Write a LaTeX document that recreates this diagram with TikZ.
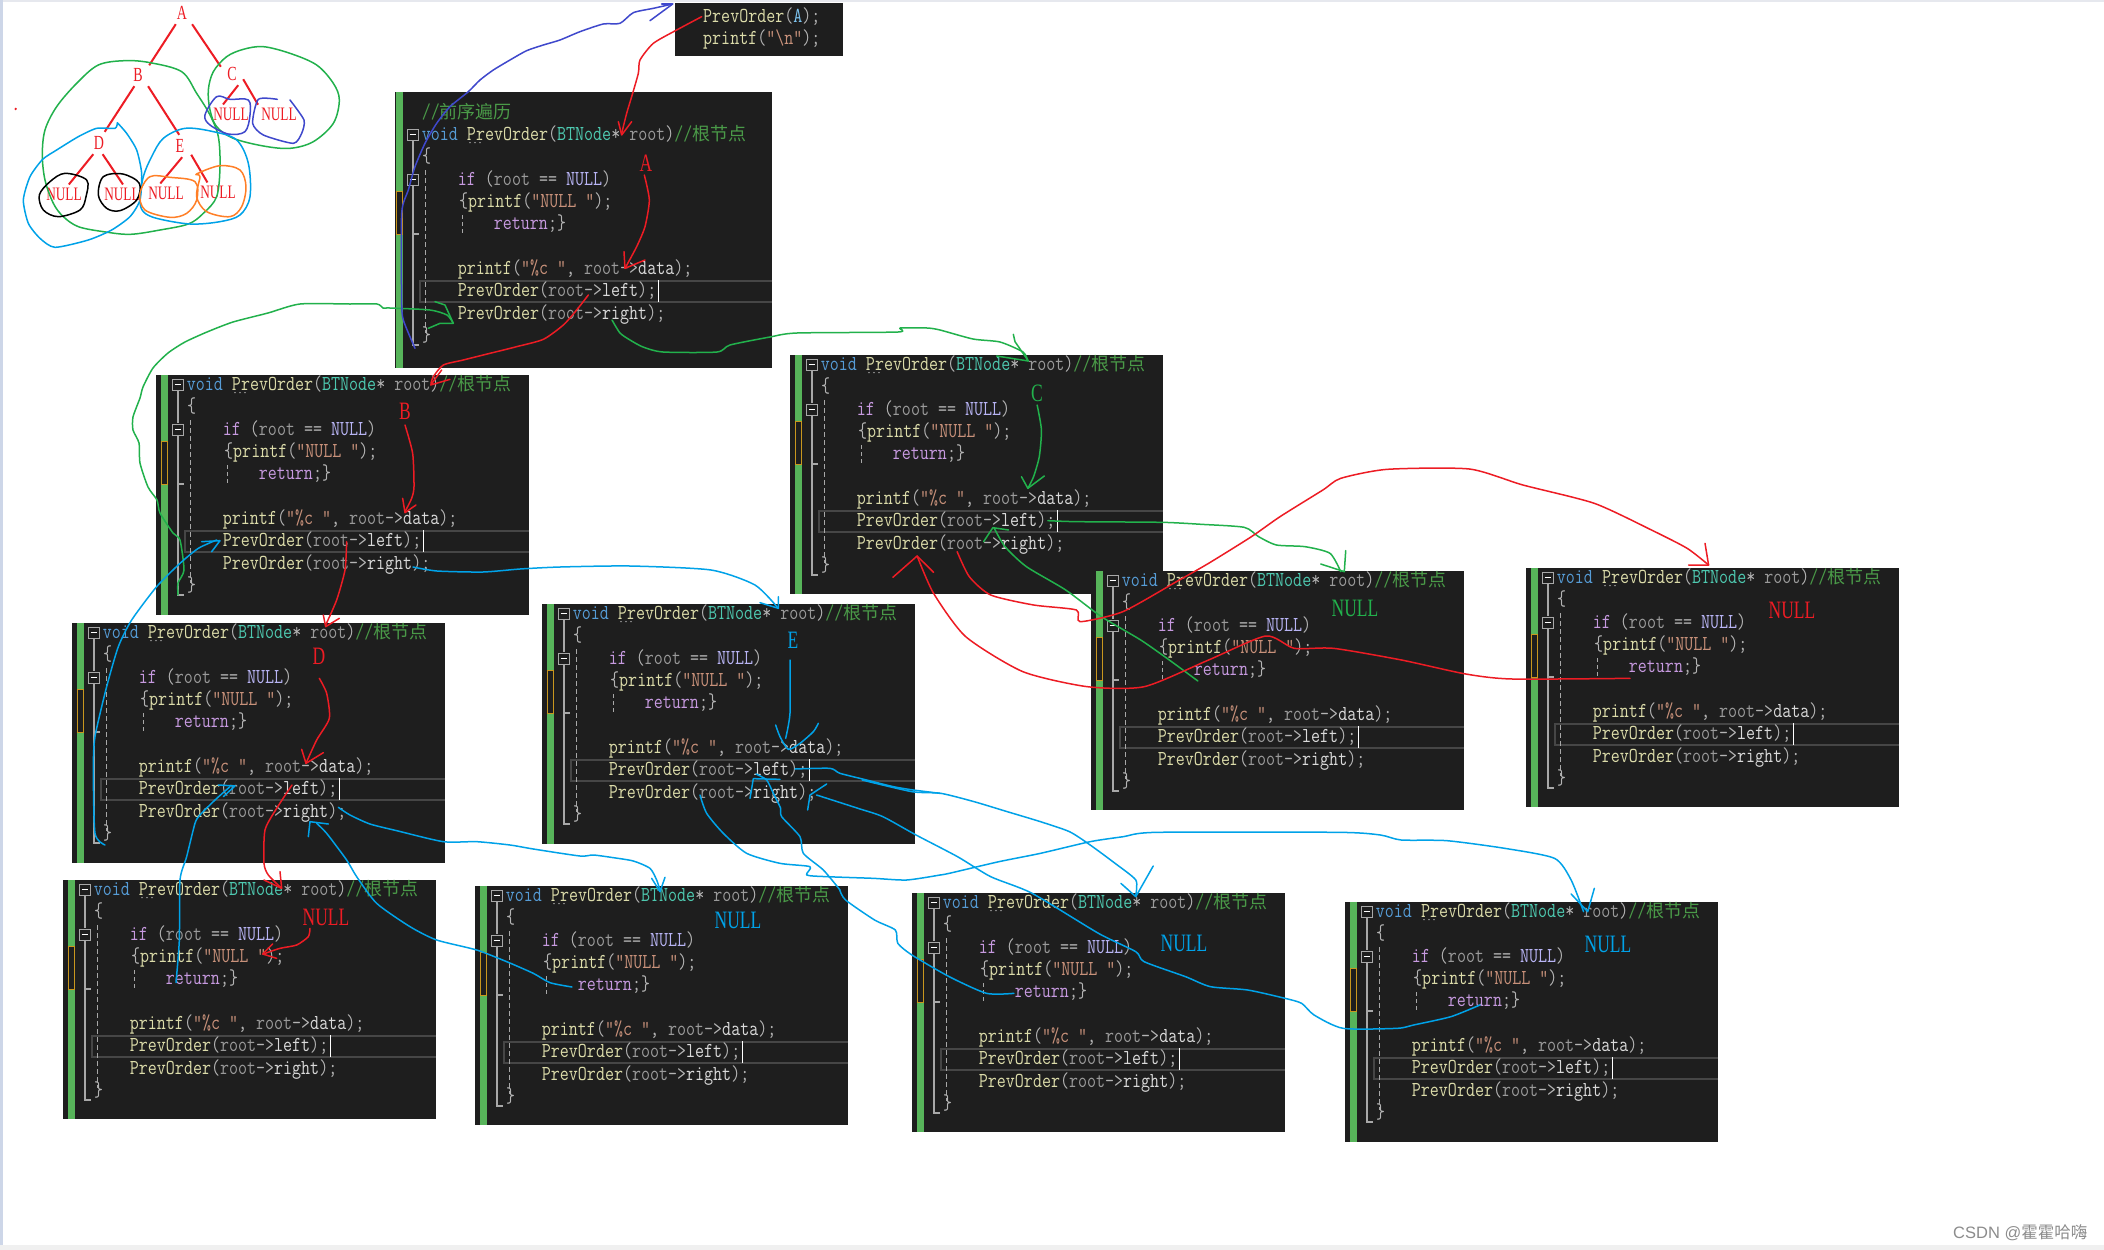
\documentclass[tikz,border=0pt]{standalone}
\usepackage{fontspec}
\setmainfont{Liberation Serif}
\newfontfamily\codefont[FakeStretch=0.822]{Latin Modern Mono}
\newfontfamily\lblfont[FakeStretch=0.7]{Liberation Serif}
\newfontfamily\cjkfont{Noto Sans CJK SC}
\newfontfamily\wmfont{Liberation Sans}
\definecolor{codebg}{HTML}{1E1E1E}
\definecolor{barg}{HTML}{57B45A}
\definecolor{cblue}{HTML}{569CD6}
\definecolor{cfn}{HTML}{DCDCAA}
\definecolor{cty}{HTML}{4EC9B0}
\definecolor{cparm}{HTML}{9A9A9A}
\definecolor{cp}{HTML}{B4B4B4}
\definecolor{ccom}{HTML}{4A9A48}
\definecolor{ckw}{HTML}{C79AE0}
\definecolor{cnull}{HTML}{B8B4F4}
\definecolor{cstr}{HTML}{C8917A}
\definecolor{cmem}{HTML}{DADADA}
\definecolor{cargA}{HTML}{7CC4F0}
\definecolor{hred}{HTML}{ED1C24}
\definecolor{hgreen}{HTML}{22B14C}
\definecolor{hblue}{HTML}{00A2E8}
\definecolor{hdark}{HTML}{3F48CC}
\definecolor{horange}{HTML}{FF7F27}
\definecolor{gutter}{HTML}{A8A8A8}
\definecolor{hiline}{HTML}{464646}
\definecolor{ymark}{HTML}{C8961E}
\definecolor{edgetop}{HTML}{E6E8EE}
\definecolor{edgeleft}{HTML}{CDD6E8}
\definecolor{edgebot}{HTML}{F0F0F0}
\definecolor{wmark}{HTML}{8C8C8C}
\newcommand\cc[2]{\textcolor{#1}{#2}}
\newcommand\cjkc[1]{{\cjkfont\fontsize{18}{20}\selectfont #1}}
\newcommand\sigline{\cc{cblue}{void} \cc{cfn}{PrevOrder}\cc{cp}{(}\cc{cty}{BTNode}\cc{cp}{*} \cc{cparm}{root}\cc{cp}{)}\cc{ccom}{//\cjkc{根节点}}}
\newcommand\callline[1]{\cc{cfn}{PrevOrder}\cc{cp}{(}\cc{cparm}{root}\cc{cp}{->}\cc{cmem}{#1}\cc{cp}{);}}
\newcommand\panelw{373}
% name, x, y, left inset, top inset, bottom
\newcommand\codepanel[6]{%
\begin{scope}[shift={(#2,#3)}]
  \fill[codebg] (#4,#5) rectangle (\panelw,#6);
  \fill[barg] (5.3,#5) rectangle (12,#6);
  \fill[codebg,draw=ymark,line width=1pt] (5.6,66) rectangle (11.4,109);
  \draw[hiline,line width=2pt] (\panelw,156) -- (29,156) -- (29,176.5) -- (\panelw,176.5);
  \draw[white,line width=1pt] (267,155) -- (267,177);
  \draw[gutter,line width=1.2pt] (22,16) -- (22,48);
  \draw[gutter,line width=1.2pt] (27.5,109) -- (22,109) -- (22,61) (22,109) -- (22,220) -- (28,220);
  \draw[gutter,line width=1pt,dash pattern=on 5pt off 3pt] (34,45) -- (34,208);
  \draw[gutter,line width=1pt,dash pattern=on 4pt off 3pt] (71,90) -- (71,110);
  \draw[gutter,fill=codebg,line width=1pt] (16,4) rectangle (27.5,15.5);
  \draw[gutter,fill=codebg,line width=1pt] (16,49) rectangle (27.5,60.5);
  \draw[white,line width=1.1pt] (18.5,9.8) -- (25,9.8) (18.5,54.8) -- (25,54.8);
  \foreach \dx in {79,84,89}{\fill[cp] (\dx,17.6) circle (.8);}
  \node[codeline] (#1-sig) at (30.7,15.2) {\sigline};
  \node[codeline] (#1-open) at (31,37.6) {\cc{cp}{\{}};
  \node[codeline] (#1-if) at (66.7,60.3) {\cc{ckw}{if} \cc{cp}{(}\cc{cparm}{root} \cc{cp}{==} \cc{cnull}{NULL}\cc{cp}{)}};
  \node[codeline] (#1-pr) at (68,82.6) {\cc{cp}{\{}\cc{cfn}{printf}\cc{cp}{(}\cc{cstr}{"NULL "}\cc{cp}{);}};
  \node[codeline] (#1-ret) at (102.7,104.8) {\cc{ckw}{return}\cc{cp}{;\}}};
  \node[codeline] (#1-pc) at (66.7,149.5) {\cc{cfn}{printf}\cc{cp}{(}\cc{cstr}{"\%c "}\cc{cp}{,} \cc{cparm}{root}\cc{cp}{->}\cc{cmem}{data}\cc{cp}{);}};
  \node[codeline] (#1-left) at (66.7,171.8) {\callline{left}};
  \node[codeline] (#1-right) at (66.7,194.1) {\callline{right}};
  \node[codeline] (#1-close) at (31,216.4) {\cc{cp}{\}}};
\end{scope}}
\newcommand\hs[2]{\draw[#1,handln] plot[smooth,tension=.4] coordinates {#2};}
\newcommand\hc[2]{\draw[#1,handln] plot[smooth cycle,tension=.55] coordinates {#2};}
\newcommand\hp[2]{\draw[#1,handln] plot coordinates {#2};}
\tikzset{
  codeline/.style={anchor=base west,inner sep=0pt,font=\codefont\fontsize{21.3}{23}\selectfont},
  handln/.style={line width=1.5pt,line join=round,line cap=round},
  zm/.style 2 args={shift={(#1,#2)},x=.33333pt,y=-.33333pt},
  treelbl/.style={text=hred,font=\lblfont\fontsize{20}{22}\selectfont,inner sep=0pt,minimum width=22pt,minimum height=22pt},
  treenull/.style={text=hred,font=\lblfont\fontsize{19}{21}\selectfont,inner sep=3pt},
  treeedge/.style={hred,line width=2pt},
  biglbl/.style={font=\lblfont\fontsize{25}{27}\selectfont,inner sep=0pt},
}
\begin{document}
\begin{tikzpicture}[x=1pt,y=-1pt]
\useasboundingbox (0,0) rectangle (2104,1250);
\fill[white] (0,0) rectangle (2104,1250);
\fill[edgetop] (0,0) rectangle (2104,2);
\fill[edgeleft] (0,0) rectangle (3,1250);
\fill[edgebot] (0,1245) rectangle (2104,1250);

% panels
\fill[codebg] (675,3) rectangle (843,56);
\node[codeline] (topcall) at (703,22) {\cc{cfn}{PrevOrder}\cc{cp}{(}\cc{cargA}{A}\cc{cp}{);}};
\node[codeline] (topprint) at (703,44) {\cc{cfn}{printf}\cc{cp}{(}\cc{cstr}{"\textbackslash n"}\cc{cp}{);}};

\renewcommand\panelw{381}
\codepanel{pA}{391}{125}{4}{-33}{243}
\renewcommand\panelw{373}
\node[codeline] (pA-com) at (421.7,118) {\cc{ccom}{//\cjkc{前序遍历}}};
\codepanel{pB}{156}{375}{0}{0}{240}
\codepanel{pC}{790}{355}{0}{0}{239}
\codepanel{pD}{72}{623}{0}{0}{240}
\codepanel{pE}{542}{604}{0}{0}{240}
\codepanel{pNa}{1091}{571}{0}{0}{239}
\codepanel{pNb}{1526}{568}{0}{0}{239}
\codepanel{pNc}{63}{880}{0}{0}{239}
\codepanel{pNd}{475}{886}{0}{0}{239}
\codepanel{pNe}{912}{893}{0}{0}{239}
\codepanel{pNf}{1345}{902}{0}{0}{240}

% big labels
\node[biglbl,text=hred] (lA) at (646,163) {A};
\node[biglbl,text=hred] (lB) at (405,411) {B};
\node[biglbl,text=hgreen] (lC) at (1037,393) {C};
\node[biglbl,text=hred] (lD) at (319,656) {D};
\node[biglbl,text=hblue] (lE) at (793,640) {E};
\node[biglbl,text=hgreen] (lNa) at (1355,608) {NULL};
\node[biglbl,text=hred] (lNb) at (1792,610) {NULL};
\node[biglbl,text=hred] (lNc) at (326,917) {NULL};
\node[biglbl,text=hblue] (lNd) at (738,920) {NULL};
\node[biglbl,text=hblue] (lNe) at (1184,943) {NULL};
\node[biglbl,text=hblue] (lNf) at (1608,944) {NULL};

% tree
\node[treelbl] (tA) at (182,13) {A};
\node[treelbl] (tB) at (138,75) {B};
\node[treelbl] (tC) at (232,74) {C};
\node[treelbl] (tD) at (99,143) {D};
\node[treelbl] (tE) at (180,146) {E};
\node[treenull] (n1) at (64,194) {NULL};
\node[treenull] (n2) at (122,194) {NULL};
\node[treenull] (n3) at (166,193) {NULL};
\node[treenull] (n4) at (218,192) {NULL};
\node[treenull] (n5) at (231,114) {NULL};
\node[treenull] (n6) at (279,114) {NULL};
\draw[treeedge] (tA.241) -- (tB.41);
\draw[treeedge] (tA.312) -- (tC.147);
\draw[treeedge] (tC.299) -- (n5.130);
\draw[treeedge] (tC.335) -- (n6.156);
\draw[treeedge] (tB.252) -- (tD.63);
\draw[treeedge] (tB.312) -- (tE.94);
\draw[treeedge] (tD.243) -- (n1.63);
\draw[treeedge] (tD.288) -- (n2.84);
\draw[treeedge] (tE.281) -- (n3.121);
\draw[treeedge] (tE.322) -- (n4.138);
\begin{scope}[zm={0}{0}]
\fill[hred] (47,327) circle (4);
\hc{hgreen}{(295,195)(375,182)(450,188)(545,215)(590,280)(630,345)(655,410)(660,500)(650,590)(610,640)(565,672)(480,690)(390,703)(310,695)(235,680)(190,650)(160,610)(135,540)(127,465)(135,390)(170,320)(230,250)}
\hc{hgreen}{(625,270)(640,215)(680,170)(730,148)(790,140)(870,160)(950,195)(1000,250)(1018,300)(1000,370)(940,425)(870,445)(790,438)(700,415)(650,380)(630,330)}
\hs{hblue}{(352,368)(345,385)(290,385)(235,410)(170,450)(128,478)(90,530)(70,600)(85,670)(120,715)(165,742)(265,720)(335,690)(390,650)(420,600)(425,520)(410,450)(380,400)(352,368)}
\hc{hblue}{(555,385)(490,415)(455,470)(430,530)(420,600)(430,635)(470,655)(570,672)(660,665)(720,645)(750,590)(745,490)(710,420)(640,395)}
\hc{hdark}{(650,290)(615,345)(630,375)(685,402)(735,395)(750,345)(745,300)(690,298)}
\hs{hdark}{(832,298)(775,298)(758,370)(790,405)(880,430)(905,400)(912,360)(870,300)}
\hc{black}{(195,520)(150,545)(118,585)(130,630)(175,650)(240,630)(258,590)(260,540)}
\hc{black}{(368,522)(310,530)(295,585)(320,625)(360,632)(410,600)(418,550)}
\hc{horange}{(450,530)(420,580)(435,630)(510,652)(560,640)(590,600)(585,545)(510,532)}
\hc{horange}{(590,522)(660,497)(720,510)(738,560)(725,620)(690,650)(620,635)(590,590)(600,530)}
\end{scope}

% long green strokes (full coordinates)
\hs{hgreen}{(453,323)(447,315)(430,310)(390,308)(383,308)(377,304)(350,304)(300,304)(268,313)(233,322)(207,332)(185,342)(168,353)(153,368)(143,387)(140,398)(133,417)(133,430)(139,443)(140,463)(148,487)(157,500)(160,513)(173,533)(180,540)(184,570)(178,583)(178,595)}
\hs{hgreen}{(612,320)(620,333)(630,340)(643,347)(663,352)(717,352)(730,345)(770,337)(797,333)(898,332)(900,328)(927,328)(940,330)(973,339)(1000,342)(1023,352)(1028,361)}
\hs{hblue}{(413,567)(437,571)(483,572)(520,569)(560,567)(630,566)(711,570)(755,585)(778,608)}

\begin{scope}[zm={390}{0}]
\hs{hdark}{(75,1045)(40,960)(35,900)(35,640)(55,570)(75,500)(105,430)(140,370)(180,320)(235,275)(270,240)(310,210)(360,180)(410,152)(460,135)(510,120)(570,95)(640,72)(690,70)(730,38)(790,25)(848,12)}
\hp{hdark}{(815,12)(848,12)(780,62)}
\hs{hred}{(935,50)(860,90)(790,130)(750,180)(745,220)(725,290)(710,340)(695,400)}
\hp{hred}{(725,365)(695,405)(685,365)}
\hs{hred}{(763,525)(778,600)(765,680)(740,740)(705,805)}
\hp{hred}{(702,755)(705,805)(765,780)}
\hs{hred}{(595,885)(560,930)(520,975)(460,1018)(380,1040)(300,1060)(220,1080)(160,1095)(130,1130)(123,1150)}
\hp{hgreen}{(135,905)(165,915)(190,970)(150,970)(115,985)}
\end{scope}
\begin{scope}[zm={60}{370}]
\hp{hred}{(1145,0)(1112,45)(1170,28)}
\hs{hred}{(1035,165)(1058,250)(1062,350)(1055,385)(1035,425)}
\hp{hred}{(1028,385)(1035,428)(1068,405)}
\hs{hred}{(860,515)(855,600)(830,690)(797,765)}
\hp{hred}{(790,735)(797,770)(838,745)}
\hs{hred}{(778,925)(800,970)(808,1045)(770,1110)(738,1180)}
\hp{hred}{(725,1138)(738,1180)(790,1148)}
\hs{hblue}{(135,1425)(105,1390)(100,1200)(105,1100)(140,950)(175,830)(215,750)(290,650)(360,580)(415,535)(470,510)}
\hp{hblue}{(425,515)(480,512)(455,545)}
\hs{hblue}{(348,1838)(358,1710)(360,1530)(380,1460)(405,1360)(420,1335)(465,1290)(510,1250)}
\hp{hblue}{(475,1245)(525,1248)(490,1280)}
\end{scope}
\begin{scope}[zm={60}{800}]
\hs{hred}{(696,-45)(650,25)(615,90)(612,190)(625,225)(665,265)}
\hp{hred}{(612,240)(665,265)(660,215)}
\hs{hred}{(750,385)(745,410)(710,435)(660,445)(610,462)}
\hp{hred}{(638,432)(608,462)(650,475)}
\hs{hblue}{(1536,561)(1470,548)(1420,520)(1340,485)(1250,450)(1130,420)(1050,380)(950,310)(890,230)(860,180)(800,100)(770,70)}
\hp{hblue}{(745,110)(750,65)(805,72)}
\hs{hblue}{(835,22)(870,45)(930,72)(1010,92)(1150,125)(1250,125)(1350,135)(1420,147)(1560,168)(1600,165)(1660,173)(1720,183)(1770,205)(1790,240)(1800,270)}
\hp{hblue}{(1775,235)(1800,275)(1815,232)}
\end{scope}
\begin{scope}[shift={(780,340)},x=.71429pt,y=-.33333pt]
\hs{hgreen}{(360,195)(366,270)(363,350)(355,410)(347,445)}
\hp{hgreen}{(338,410)(347,445)(370,408)}
\hs{hgreen}{(375,542)(415,545)(535,547)(590,553)(650,562)(670,590)(695,615)(735,620)(770,640)(785,695)}
\hp{hgreen}{(792,632)(790,695)(757,672)}
\hs{hgreen}{(585,1023)(545,960)(505,900)(450,830)(400,750)(345,680)(315,620)(300,565)}
\hp{hgreen}{(285,605)(298,563)(320,570)}
\hs{hred}{(248,635)(265,710)(295,765)(355,795)(415,810)(420,845)(480,815)(555,725)(600,670)(660,590)(700,530)(760,450)(785,415)(850,388)(965,387)(1040,435)(1140,490)(1220,570)(1270,625)(1300,675)}
\hp{hred}{(1295,610)(1300,675)(1272,675)}
\hs{hred}{(1190,1015)(1025,1017)(960,1002)(870,960)(775,925)(720,925)(680,888)(600,960)(510,1040)(430,1040)(340,995)(260,890)(215,760)(192,648)}
\hp{hred}{(158,712)(192,648)(215,697)}
\end{scope}
\begin{scope}[zm={770}{300}]
\hp{hgreen}{(680,168)(775,183)(735,125)(730,103)}
\end{scope}
\begin{scope}[zm={540}{590}]
\hs{hblue}{(750,210)(750,370)(737,445)}
\hs{hblue}{(707,405)(720,440)(745,478)(780,460)(820,425)(835,400)}
\hp{hblue}{(715,20)(715,55)(660,38)}
\hs{hblue}{(765,537)(870,535)(900,550)(980,570)(1060,590)(1120,600)(1200,610)}
\hp{hblue}{(720,568)(640,566)(630,625)}
\hs{hblue}{(648,552)(680,570)(700,610)(722,655)(725,680)(780,740)(790,790)(850,840)(900,900)}
\hs{hblue}{(480,615)(500,670)(550,730)(620,790)(720,820)(810,830)(800,855)(860,860)(1000,865)(1100,870)(1200,855)}
\hp{hblue}{(860,582)(810,615)(803,660)}
\end{scope}
\begin{scope}[shift={(460,780)},x=.82919pt,y=-.33333pt]
\hs{hblue}{(485,0)(545,35)(580,40)(620,65)(660,95)(700,125)(735,155)(760,195)(790,250)(815,300)(815,345)}
\hp{hblue}{(797,310)(815,350)(836,258)}
\hs{hblue}{(458,330)(465,360)(500,420)(525,450)(528,490)(545,525)(590,590)(635,640)(668,640)}
\hs{hblue}{(579,285)(590,280)(650,245)(700,220)(760,185)(800,170)(840,157)(1060,157)(1110,165)(1135,180)(1190,182)(1260,205)(1320,235)(1340,300)(1355,395)}
\hp{hblue}{(1340,342)(1360,395)(1368,325)}
\hs{hblue}{(1230,675)(1195,710)(1150,735)(1130,745)(1065,745)(1030,705)(1015,670)(995,655)(950,630)(905,620)(875,590)(825,545)(815,515)(770,460)(690,340)(640,290)(600,230)(550,165)(510,110)(480,85)(430,45)}
\end{scope}

% watermark
\node[anchor=base west,inner sep=0pt,text=wmark,font=\wmfont\fontsize{16.5}{18}\selectfont] (wm) at (1953,1238) {CSDN @{\cjkfont 霍霍哈嗨}};
\end{tikzpicture}
\end{document}
